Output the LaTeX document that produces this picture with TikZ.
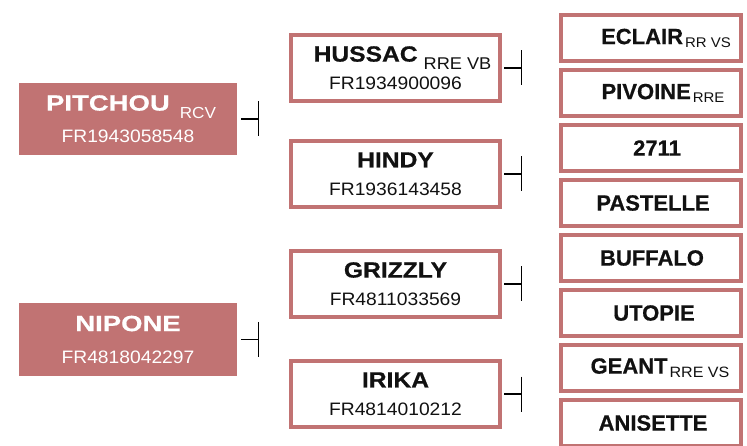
\documentclass[tikz,border=0pt]{standalone}
\usepackage{fontspec}
\setmainfont{Liberation Sans}
\newfontfamily\boldfam{Liberation Sans}[FakeStretch=1.12,FakeBold=0.6]
\newfontfamily\gfam{Liberation Sans}[FakeStretch=1.0,FakeBold=0.6]
\newfontfamily\sirefam{Liberation Sans}[FakeStretch=1.25,FakeBold=0.6]
\newfontfamily\regfam{Liberation Sans}[FakeStretch=1.07]
\usepackage{tikz}
\usetikzlibrary{positioning,calc}
\definecolor{rosec}{RGB}{193,115,115}
\definecolor{inkc}{RGB}{17,17,17}
\newcommand{\nm}[1]{{\fontsize{22}{28}\boldfam\bfseries #1}}
\newcommand{\gnm}[1]{{\fontsize{22}{28}\gfam\bfseries #1}}
\newcommand{\snm}[1]{{\fontsize{22}{32}\sirefam\bfseries #1}}
\newcommand{\idn}[1]{{\fontsize{18}{28}\regfam #1}}
\newcommand{\qual}[3]{\raisebox{-#1pt}{\fontsize{#2}{#2}\regfam #3}}

\begin{document}
\begin{tikzpicture}[x=1pt,y=-1pt,
  sire/.style={fill=rosec,text=white,minimum width=218pt,minimum height=72pt,
    inner sep=0pt,align=center,font=\fontsize{18}{32}\regfam},
  parent/.style={draw=rosec,line width=4pt,fill=white,text=inkc,minimum width=209pt,
    minimum height=66pt,inner sep=0pt,align=center,font=\fontsize{18}{28}\regfam},
  grand/.style={draw=rosec,line width=4pt,fill=white,text=inkc,minimum width=180pt,
    minimum height=46pt,inner sep=0pt,align=center},
  joint/.style={line width=1.4pt,black}]
\useasboundingbox (0,0) rectangle (747,446);
% sires
\node[sire] (pitchou) at (128,119) {\hspace*{6pt}\snm{PITCHOU}\hspace{10pt}\qual{8}{16}{RCV}\\ \idn{FR1943058548}};
\node[sire] (nipone) at (128,339.5) {\snm{NIPONE}\\ \idn{FR4818042297}};
% parents
\node[parent] (hussac) at (395.5,68) {\hspace*{14pt}\nm{HUSSAC}\hspace{6pt}\qual{8}{17}{RRE VB}\\ \idn{FR1934900096}};
\node[parent] (hindy) at (395.5,174) {\nm{HINDY}\\ \idn{FR1936143458}};
\node[parent] (grizzly) at (395.5,284) {\nm{GRIZZLY}\\ \idn{FR4811033569}};
\node[parent] (irika) at (395.5,394) {\nm{IRIKA}\\ \idn{FR4814010212}};
% grandparents
\foreach \t/\dx [count=\i from 0] in {
{\gnm{ECLAIR}\hspace{2pt}\qual{3}{14}{RR VS}}/30,
{\gnm{PIVOINE}\hspace{2pt}\qual{3}{14}{RRE}}/24,
{\gnm{2711}}/12,
{\gnm{PASTELLE}}/4,
{\gnm{BUFFALO}}/2,
{\gnm{UTOPIE}}/6,
{\gnm{GEANT}\hspace{2pt}\qual{4}{15}{RRE VS}}/18,
{\gnm{ANISETTE}}/4}{
  \node[grand] (g\i) at (651,38+55*\i) {\hspace*{\dx pt}\t};
}
% joints
\foreach \n/\s in {pitchou/4,nipone/4,hussac/2,hindy/2,grizzly/2,irika/2}{
  \coordinate (\n-k) at ([xshift=\s pt+17.5pt]\n.east);
  \draw[joint] ([xshift=\s pt]\n.east) -- (\n-k);
  \draw[joint] ([yshift=17.5pt]\n-k) -- ([yshift=-17.5pt]\n-k);
}
\end{tikzpicture}
\end{document}
